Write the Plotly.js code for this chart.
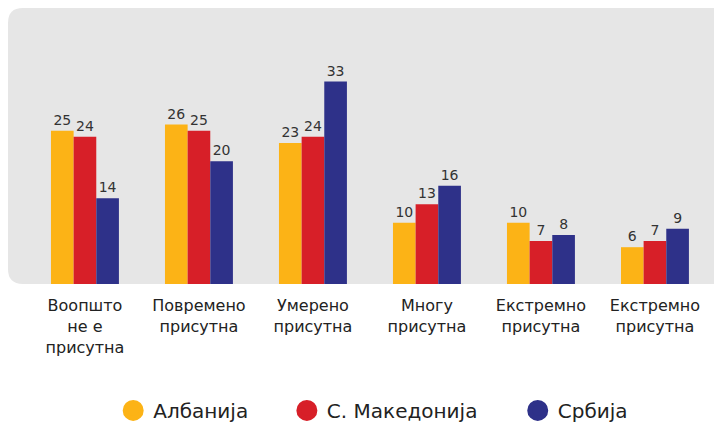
<!DOCTYPE html>
<html><head><meta charset="utf-8">
<script src="https://cdn.plot.ly/plotly-3.0.1.min.js"></script>
<style>html,body{margin:0;padding:0;background:#fff}#c{width:714px;height:425px}</style>
</head><body><div id="c"></div>
<script>
const categories = ["Воопшто<br>не е<br>присутна","Повремено<br>присутна","Умерено<br>присутна","Многу<br>присутна","Екстремно<br>присутна","Екстремно<br>присутна"];
const albania = [25, 26, 23, 10, 10, 6];
const macedonia = [24, 25, 24, 13, 7, 7];
const serbia = [14, 20, 33, 16, 8, 9];
const seriesNames = ["Албанија", "С. Македонија", "Србија"];
const colors = ["#FCB316", "#D71F28", "#2E3189"];

const xs = categories.map((c, i) => i);
const vals = [albania, macedonia, serbia];
const FONT = "DejaVu Sans, sans-serif";
const legendIds = ["legend", "legend2", "legend3"];
const legendX = [0.149, 0.395, 0.722];

const traces = [];
vals.forEach((v, k) => {
  traces.push({
    type: "bar", x: xs, y: v, name: seriesNames[k], showlegend: false,
    marker: {color: colors[k]}, text: v.map(String), textposition: "outside",
    textfont: {family: FONT, size: 14, color: "#333"}, cliponaxis: false, hoverinfo: "skip"
  });
});
vals.forEach((v, k) => {
  traces.push({
    type: "scatter", mode: "markers", x: [null], y: [null], name: seriesNames[k],
    legend: legendIds[k],
    marker: {color: colors[k], size: 16, symbol: "circle", line: {color: colors[k], width: 5}},
    showlegend: true
  });
});

const r = 0.054, rx = 0.021;
const path = `M ${rx} 1 L 1.02 1 L 1.02 0 L ${rx} 0 Q 0 0 0 ${r} L 0 ${1-r} Q 0 1 ${rx} 1 Z`;

const legendBase = (x) => ({orientation: "h", x: x, xanchor: "left", y: -0.458, yanchor: "middle",
  font: {family: FONT, size: 20, color: "#222"}, bgcolor: "rgba(0,0,0,0)", itemclick: false});

const layout = {
  width: 714, height: 425,
  margin: {l: 8, r: 0, t: 8, b: 141, autoexpand: false},
  paper_bgcolor: "#fff", plot_bgcolor: "rgba(0,0,0,0)",
  barmode: "group", bargap: 0.404, bargroupgap: 0,
  font: {family: FONT, color: "#222"},
  xaxis: {range: [-0.675, 5.518], tickvals: xs, ticktext: categories, showgrid: false, zeroline: false,
          showline: false, ticks: "", ticklabelstandoff: 10,
          tickfont: {family: FONT, size: 16, color: "#222"}, fixedrange: true},
  yaxis: {range: [0, 45], visible: false, showgrid: false, zeroline: false, fixedrange: true},
  shapes: [{type: "path", xref: "paper", yref: "paper", path: path, fillcolor: "#E6E6E6", line: {width: 0}, layer: "below"}],
  legend: legendBase(legendX[0]),
  legend2: legendBase(legendX[1]),
  legend3: legendBase(legendX[2]),
  showlegend: true
};
Plotly.newPlot("c", traces, layout, {displayModeBar: false, staticPlot: true});
</script></body></html>
